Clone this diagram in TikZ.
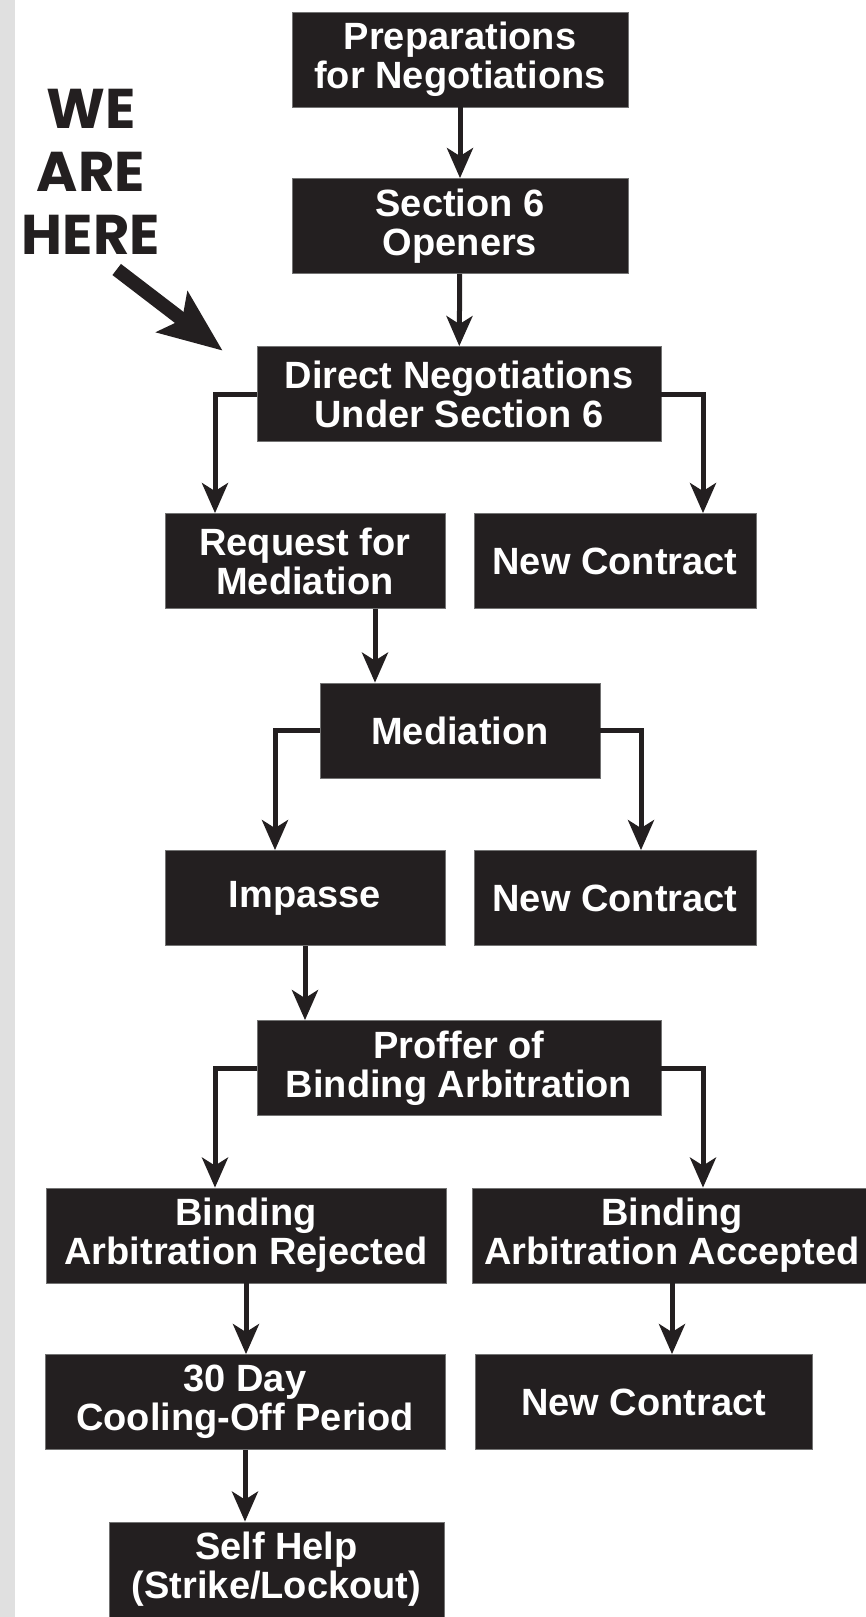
\documentclass[tikz,border=0pt]{standalone}
\usepackage{fontspec}
\setmainfont{Liberation Sans}
\newfontfamily\herefont{Poppins}
\usepackage{xcolor}
\usepackage{tikz}
\usetikzlibrary{arrows.meta}
\definecolor{boxblack}{HTML}{231F20}
\definecolor{stripgray}{HTML}{E0E0E0}

\begin{document}
\begin{tikzpicture}
      [
        x=1pt, y=-1pt,
        box/.style={rectangle,fill=boxblack,draw=black!55,line width=0.8pt,text=white,
          font=\fontsize{38}{39}\selectfont\bfseries,align=center,
          minimum height=95pt,inner sep=0pt},
        flow/.style={draw=boxblack,line width=5pt,
          -{Stealth[length=30pt,width=26pt,inset=8pt]}},
        bigarrow/.style={draw=boxblack,line width=14pt,
          -{Stealth[length=63pt,width=50pt,inset=12pt]}}
      ]

      \useasboundingbox (0,0) rectangle (866,1617);
      \fill[stripgray] (0,0) rectangle (15,1617);

      \node[box,minimum width=336pt] (Prep) at (460,59.5) {Preparations\\for Negotiations};
      \node[box,minimum width=336pt] (Sec6) at (460,226) {Section 6\\Openers};
      \node[box,minimum width=404pt] (Direct) at (459,394) {Direct Negotiations\\Under Section 6};
      \node[box,minimum width=280pt] (ReqMed) at (305,561) {Request for\\Mediation};
      \node[box,minimum width=282pt] (NewC1) at (615,561) {New Contract};
      \node[box,minimum width=280pt] (Med) at (460,730.5) {Mediation};
      \node[box,minimum width=280pt] (Imp) at (305,898) {Impasse};
      \node[box,minimum width=282pt] (NewC2) at (615,898) {New Contract};
      \node[box,minimum width=404pt] (Proffer) at (459,1068) {Proffer of\\Binding Arbitration};
      \node[box,minimum width=400pt] (Rej) at (246,1235.5) {Binding\\Arbitration Rejected};
      \node[box,minimum width=400pt] (Acc) at (672,1235.5) {Binding\\Arbitration Accepted};
      \node[box,minimum width=400pt] (Cool) at (245,1402) {30 Day\\Cooling-Off Period};
      \node[box,minimum width=337pt] (NewC3) at (643.5,1402) {New Contract};
      \node[box,minimum width=335pt] (Self) at (276.5,1569.5) {Self Help\\(Strike/Lockout)};

      \node[text=boxblack,align=center,inner sep=0pt,
        font=\herefont\fontsize{56}{63}\selectfont\bfseries] (Here) at (91,172) {WE\\ARE\\HERE};
      \coordinate (HereTail) at (116.7,269.5);
      \coordinate (HereTip) at (222.7,350.7);

      \draw[bigarrow] (HereTail) -- (HereTip);

      \draw[flow] (Prep) -- (Sec6);
      \draw[flow] (Sec6) -- (Direct);
      \draw[flow] (Direct.west) -| ([xshift=-90pt]ReqMed.north);
      \draw[flow] (Direct.east) -| ([xshift=88pt]NewC1.north);
      \draw[flow] ([xshift=70pt]ReqMed.south) -- ([xshift=70pt]ReqMed.south |- Med.north);
      \draw[flow] (Med.west) -| ([xshift=-30pt]Imp.north);
      \draw[flow] (Med.east) -| ([xshift=26pt]NewC2.north);
      \draw[flow] (Imp.south) -- (Imp.south |- Proffer.north);
      \draw[flow] (Proffer.west) -| ([xshift=-31pt]Rej.north);
      \draw[flow] (Proffer.east) -| ([xshift=31pt]Acc.north);
      \draw[flow] (Rej) -- (Rej.south |- Cool.north);
      \draw[flow] (Acc) -- (Acc.south |- NewC3.north);
      \draw[flow] (Cool) -- (Cool.south |- Self.north);
\end{tikzpicture}
\end{document}
